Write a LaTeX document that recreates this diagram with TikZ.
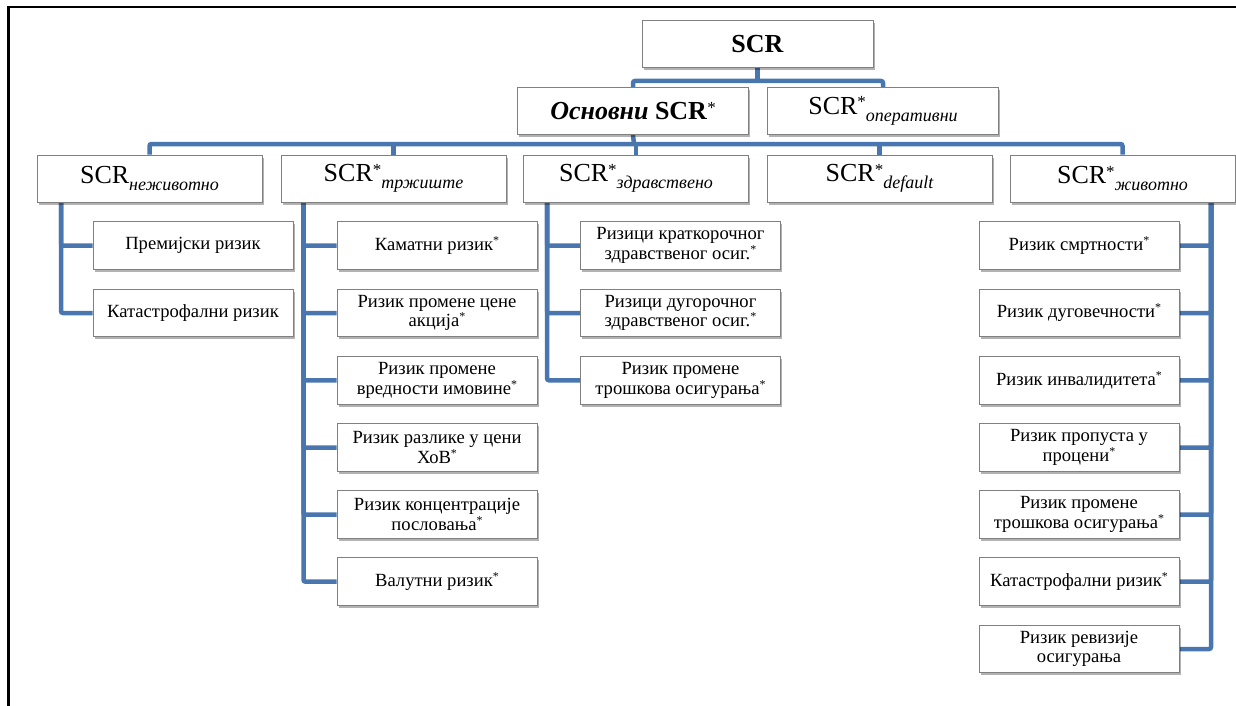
\documentclass[tikz,border=0pt]{standalone}
\usepackage{fontspec}
\setmainfont{Liberation Serif}[
  UprightFont={Liberation Serif},
  BoldFont={Liberation Serif Bold},
  ItalicFont={Liberation Serif Italic},
  BoldItalicFont={Liberation Serif Bold Italic}]
\usetikzlibrary{shadows,backgrounds}
\definecolor{connblue}{RGB}{74,118,176}
\definecolor{boxgray}{RGB}{128,128,128}
\newcommand{\hstar}{\raisebox{6.5pt}{\fontsize{17}{17}\selectfont *}}
\newcommand{\hsub}[1]{\raisebox{-7pt}{\fontsize{18}{18}\selectfont\itshape #1}}
\newcommand{\cstar}{\raisebox{6pt}{\fontsize{12}{12}\selectfont *}}
\newcommand{\hdn}[1]{\raisebox{-2pt}{#1}}
\tikzset{
  boxbase/.style={draw=boxgray, line width=1pt, fill=white, inner sep=0pt, align=center,
    drop shadow={shadow xshift=1.5pt, shadow yshift=-2.5pt, fill=black, opacity=0.3}},
  headbox/.style={boxbase, minimum width=231pt, minimum height=47pt, font=\fontsize{26}{28}\selectfont},
  lvbox/.style={boxbase, minimum width=225pt, minimum height=47pt, font=\fontsize{26}{28}\selectfont},
  childbox/.style={boxbase, minimum width=200pt, minimum height=47.5pt, font=\fontsize{18.6}{19.5}\selectfont},
  conn/.style={draw=connblue, line width=4.5pt, rounded corners=2pt},
  frameline/.style={draw=black, line width=2.5pt}
}
\begin{document}
\begin{tikzpicture}[x=1pt,y=-1pt]
\useasboundingbox (0,0) rectangle (1236,706);
\draw[frameline] (8.5,706) -- (8.5,7) -- (1236,7);

% level 0 and 1
\node[headbox] (scr) at (757.5,44.5) {\textbf{SCR}};
\node[headbox] (osn) at (633,111) {\textbf{\textit{Основни} SCR}\hstar};
\node[headbox] (oper) at (883,111) {\hdn{SCR\hstar\hsub{оперативни}}};

% level 2
\node[lvbox] (nez) at (149.5,178.5) {\hdn{SCR\hsub{неживотно}}};
\node[lvbox] (trz) at (393.5,178.5) {\hdn{SCR\hstar\hsub{тржиште}}};
\node[lvbox] (zdr) at (636,178.5) {\hdn{SCR\hstar\hsub{здравствено}}};
\node[lvbox] (def) at (879.5,178.5) {\hdn{SCR\hstar\hsub{default}}};
\node[lvbox] (ziv) at (1122.5,178.5) {\hdn{SCR\hstar\hsub{животно}}};

% children of nez
\node[childbox] (n1) at (193,245.5) {Премијски ризик};
\node[childbox] (n2) at (193,313) {Катастрофални ризик};

% children of trz
\node[childbox] (t1) at (437,245.5) {Каматни ризик\cstar};
\node[childbox] (t2) at (437,313) {Ризик промене цене\\акција\cstar};
\node[childbox] (t3) at (437,380.3) {Ризик промене\\вредности имовине\cstar};
\node[childbox] (t4) at (437,447.5) {Ризик разлике у цени\\ХоВ\cstar};
\node[childbox] (t5) at (437,514.5) {Ризик концентрације\\пословања\cstar};
\node[childbox] (t6) at (437,581.7) {Валутни ризик\cstar};

% children of zdr
\node[childbox] (h1) at (680.5,245.5) {Ризици краткорочног\\здравственог осиг.\cstar};
\node[childbox] (h2) at (680.5,313) {Ризици дугорочног\\здравственог осиг.\cstar};
\node[childbox] (h3) at (680.5,380.3) {Ризик промене\\трошкова осигурања\cstar};

% children of ziv
\node[childbox] (l1) at (1079,245.5) {Ризик смртности\cstar};
\node[childbox] (l2) at (1079,313) {Ризик дуговечности\cstar};
\node[childbox] (l3) at (1079,380.3) {Ризик инвалидитета\cstar};
\node[childbox] (l4) at (1079,447.5) {Ризик пропуста у\\процени\cstar};
\node[childbox] (l5) at (1079,514.5) {Ризик промене\\трошкова осигурања\cstar};
\node[childbox] (l6) at (1079,581.7) {Катастрофални ризик\cstar};
\node[childbox] (l7) at (1079,649) {Ризик ревизије\\осигурања};

\coordinate (j1) at (757.5,81);
\coordinate (j2) at (634,144);
\coordinate (bn) at (61,202);
\coordinate (bt) at (303.5,202);
\coordinate (bz) at (547,202);
\coordinate (bl) at (1211,202);

\begin{scope}[on background layer]
\draw[conn] (scr.south) -- (j1);
\draw[conn] (osn.north) |- (j1) -| (oper.north);
\draw[conn] (osn.south) -- (j2);
\draw[conn] (nez.north) |- (j2) -| (ziv.north);
\draw[conn] (trz.north) -- (trz.north |- j2);
\draw[conn] (zdr.north) -- (zdr.north |- j2);
\draw[conn] (def.north) -- (def.north |- j2);
\foreach \c in {n1,n2} \draw[conn] (bn) |- (\c.west);
\foreach \c in {t1,t2,t3,t4,t5,t6} \draw[conn] (bt) |- (\c.west);
\foreach \c in {h1,h2,h3} \draw[conn] (bz) |- (\c.west);
\foreach \c in {l1,l2,l3,l4,l5,l6,l7} \draw[conn] (bl) |- (\c.east);
\end{scope}
\end{tikzpicture}
\end{document}
